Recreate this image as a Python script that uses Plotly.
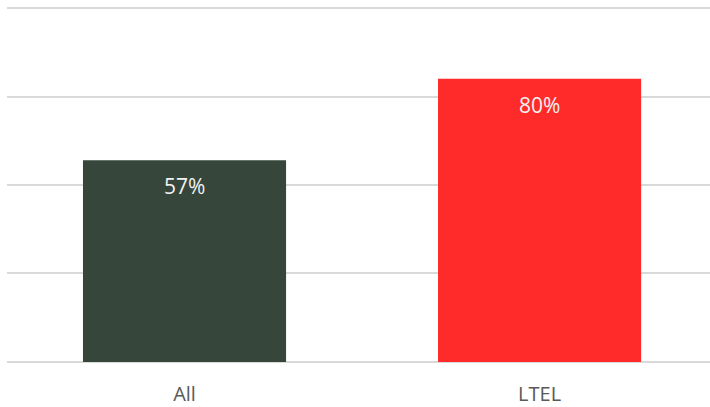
import plotly.graph_objects as go

categories = ["All", "LTEL"]
values = [57, 80]
labels = ["57%", "80%"]
colors = ["#36463B", "#FF2A2A"]
y_ticks = [0, 25, 50, 75, 100]

fig = go.Figure()
fig.add_trace(go.Bar(
    x=[0, 1], y=values, width=0.572,
    marker=dict(color=colors, line=dict(width=0)),
    hoverinfo="skip",
))
for i, (v, t) in enumerate(zip(values, labels)):
    fig.add_annotation(x=i, y=v, text=t, showarrow=False, yshift=-26,
                       yanchor="middle",
                       font=dict(family="Open Sans", size=21, color="#F2F2F2"))

fig.update_layout(
    width=710, height=407,
    margin=dict(l=7, r=0, t=6.94, b=44.44, autoexpand=False),
    paper_bgcolor="white", plot_bgcolor="white",
    showlegend=False,
    xaxis=dict(range=[-0.5, 1.48], tickmode="array", tickvals=[0, 1],
               ticktext=categories, showgrid=False, zeroline=False,
               showline=False, ticks="outside", ticklen=13, tickcolor="rgba(0,0,0,0)",
               automargin=False,
               tickfont=dict(family="Open Sans", size=20, color="#595959")),
    yaxis=dict(range=[-0.3, 100.3], tickvals=y_ticks, showticklabels=False,
               showgrid=True, gridcolor="#D9D9D9", gridwidth=1.5, automargin=False,
               zeroline=False, showline=False, fixedrange=True),
)
fig.write_html("out.html", config={"displayModeBar": False},
               post_script="document.body.style.margin='0';document.body.style.overflow='hidden';")
